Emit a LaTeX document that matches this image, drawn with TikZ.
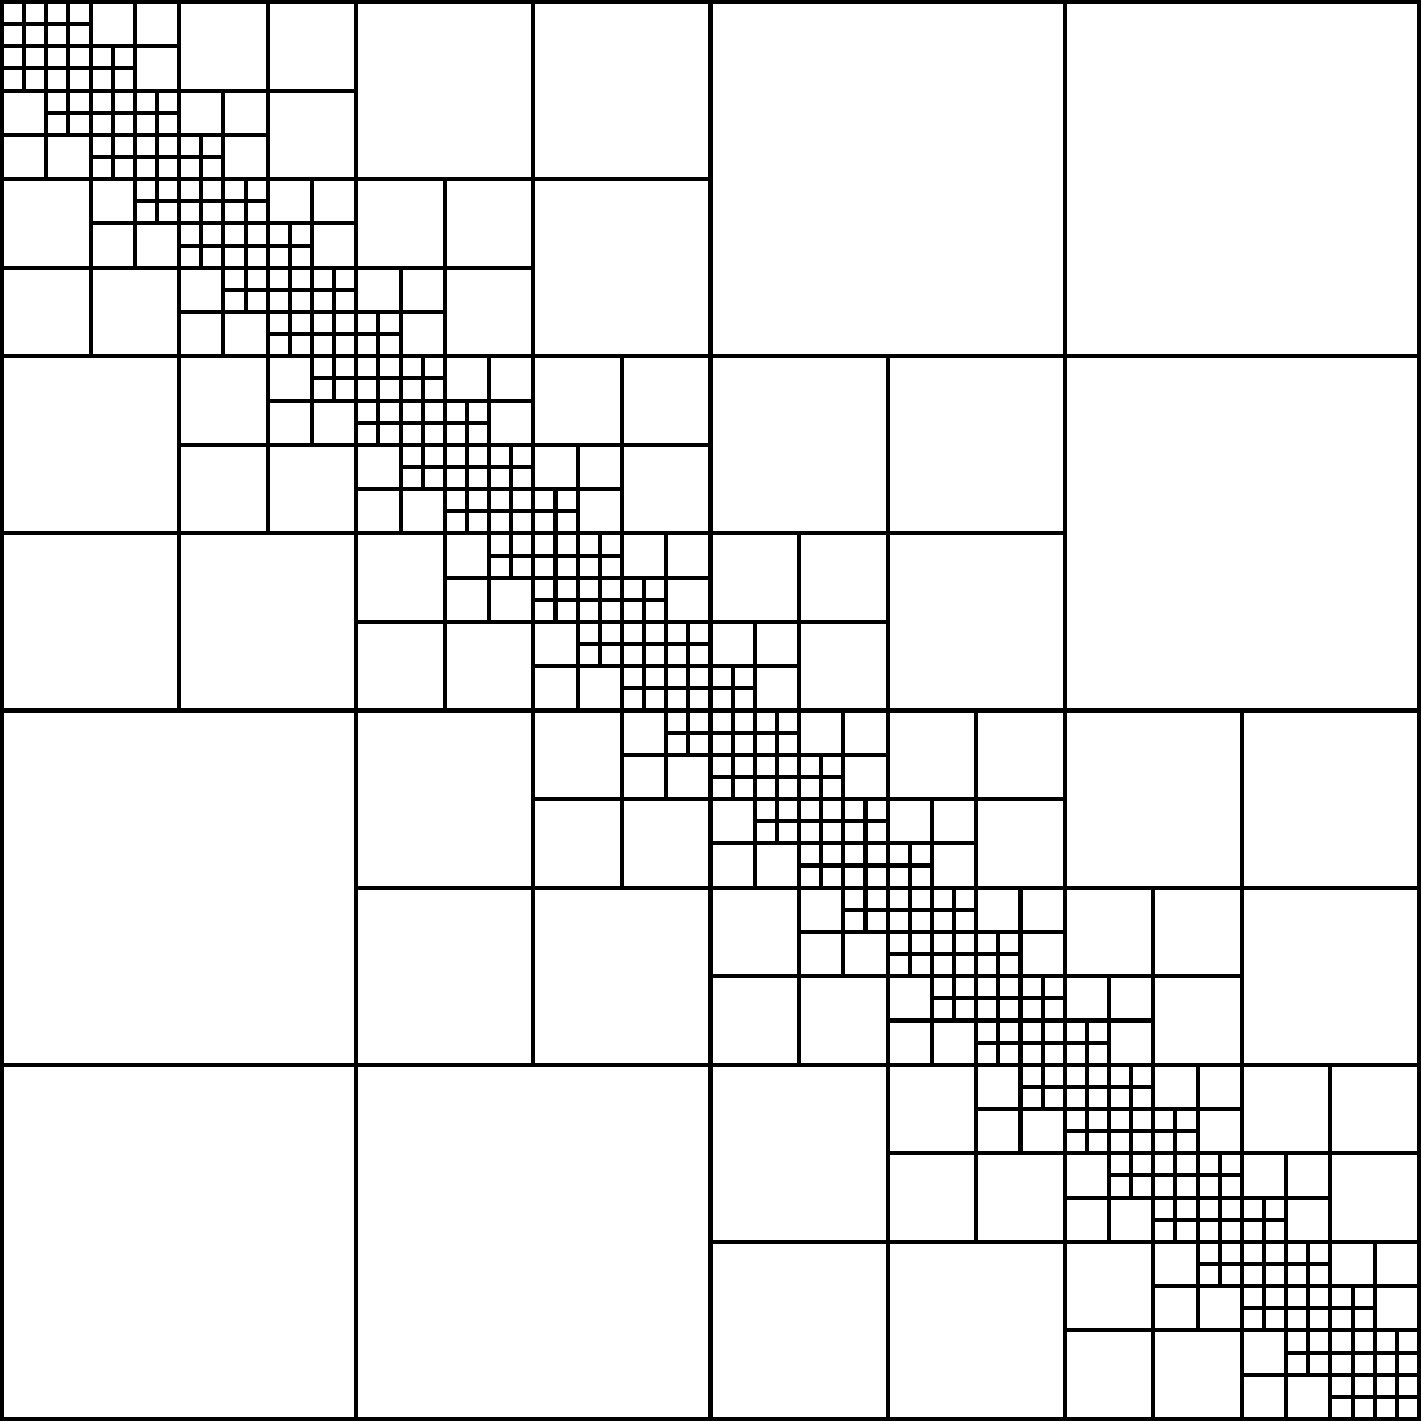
\documentclass[tikz,border=0pt]{standalone}
\begin{document}
\begin{tikzpicture}[x=0.25cm, y=-0.25cm,
    cell/.style={draw, line width=1.3pt, line cap=rect}
  ]
  \useasboundingbox (-0.09,-0.09) rectangle (64.09,64.09);

  % Outer block
  \draw[cell] (0,0) rectangle (64,64);

  % Split each block that sits next to the diagonal
  \foreach \s in {64,32,16,8,4,2} {
    \pgfmathtruncatemacro{\n}{64/\s-1}
    \foreach \i in {0,...,\n} {
      \foreach \j in {0,...,\n} {
        \pgfmathtruncatemacro{\d}{abs(\i-\j)}
        \ifnum\d<2
          \draw[cell] (\j*\s+\s/2, \i*\s) -- ++(0,\s);
          \draw[cell] (\j*\s, \i*\s+\s/2) -- ++(\s,0);
        \fi
      }
    }
  }

\end{tikzpicture}
\end{document}
